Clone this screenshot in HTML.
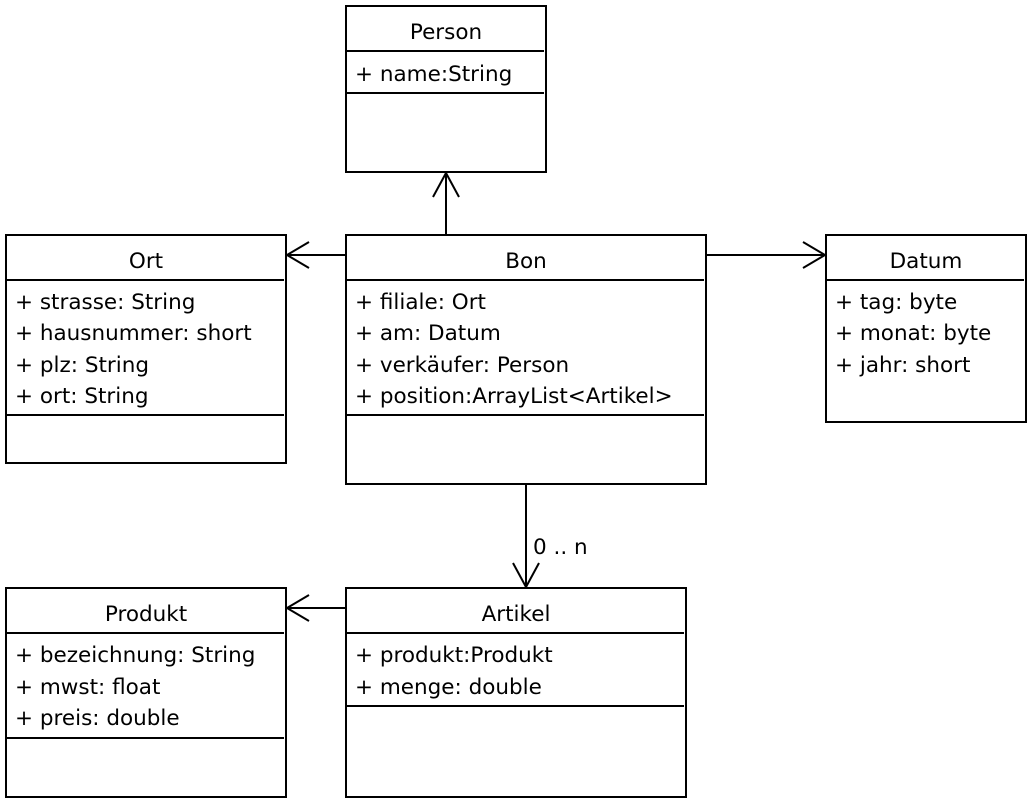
<!DOCTYPE html>
<html><head><meta charset="utf-8"><style>
html,body{margin:0;padding:0;background:#fff;}
svg{display:block;}
text{font-family:"DejaVu Sans","Liberation Sans","Noto Sans CJK JP",sans-serif;font-size:21.5px;fill:#000;}
.t{text-anchor:middle;}
</style></head><body>
<svg width="1030" height="800" viewBox="0 0 1030 800" xmlns="http://www.w3.org/2000/svg">
<g fill="none" stroke="#000" stroke-width="2">
<rect x="346" y="6" width="200" height="166"/>
<line x1="346" y1="51" x2="544" y2="51"/>
<line x1="346" y1="93" x2="544" y2="93"/>
<rect x="6" y="235" width="280" height="228"/>
<line x1="6" y1="280" x2="284" y2="280"/>
<line x1="6" y1="415" x2="284" y2="415"/>
<rect x="346" y="235" width="360" height="249"/>
<line x1="346" y1="280" x2="704" y2="280"/>
<line x1="346" y1="415" x2="704" y2="415"/>
<rect x="826" y="235" width="200" height="187"/>
<line x1="826" y1="280" x2="1024" y2="280"/>
<rect x="6" y="588" width="280" height="209"/>
<line x1="6" y1="633" x2="284" y2="633"/>
<line x1="6" y1="738" x2="284" y2="738"/>
<rect x="346" y="588" width="340" height="209"/>
<line x1="346" y1="633" x2="684" y2="633"/>
<line x1="346" y1="706" x2="684" y2="706"/>
<line x1="446" y1="235" x2="446" y2="173"/>
<polyline points="433,197 446,173 459,197"/>
<line x1="346" y1="255" x2="287" y2="255"/>
<polyline points="309,242 287,255 309,268"/>
<line x1="706" y1="255" x2="825" y2="255"/>
<polyline points="803,242 825,255 803,268"/>
<line x1="526" y1="484" x2="526" y2="587"/>
<polyline points="513,563 526,587 539,563"/>
<line x1="346" y1="608" x2="287" y2="608"/>
<polyline points="309,595 287,608 309,621"/>
</g>
<text class="t" x="446" y="39">Person</text>
<text x="355" y="81">+ name:String</text>

<text class="t" x="146" y="268">Ort</text>
<text x="15" y="309">+ strasse: String</text>
<text x="15" y="340">+ hausnummer: short</text>
<text x="15" y="372">+ plz: String</text>
<text x="15" y="403">+ ort: String</text>

<text class="t" x="526" y="268">Bon</text>
<text x="355" y="309">+ filiale: Ort</text>
<text x="355" y="340">+ am: Datum</text>
<text x="355" y="372">+ verkäufer: Person</text>
<text x="355" y="403">+ position:ArrayList&lt;Artikel&gt;</text>

<text class="t" x="926" y="268">Datum</text>
<text x="835" y="309">+ tag: byte</text>
<text x="835" y="340">+ monat: byte</text>
<text x="835" y="372">+ jahr: short</text>

<text class="t" x="146" y="621">Produkt</text>
<text x="15" y="662">+ bezeichnung: String</text>
<text x="15" y="694">+ mwst: float</text>
<text x="15" y="725">+ preis: double</text>

<text class="t" x="516" y="621">Artikel</text>
<text x="355" y="662">+ produkt:Produkt</text>
<text x="355" y="694">+ menge: double</text>

<text x="533" y="554">0 .. n</text>
</svg>
</body></html>
